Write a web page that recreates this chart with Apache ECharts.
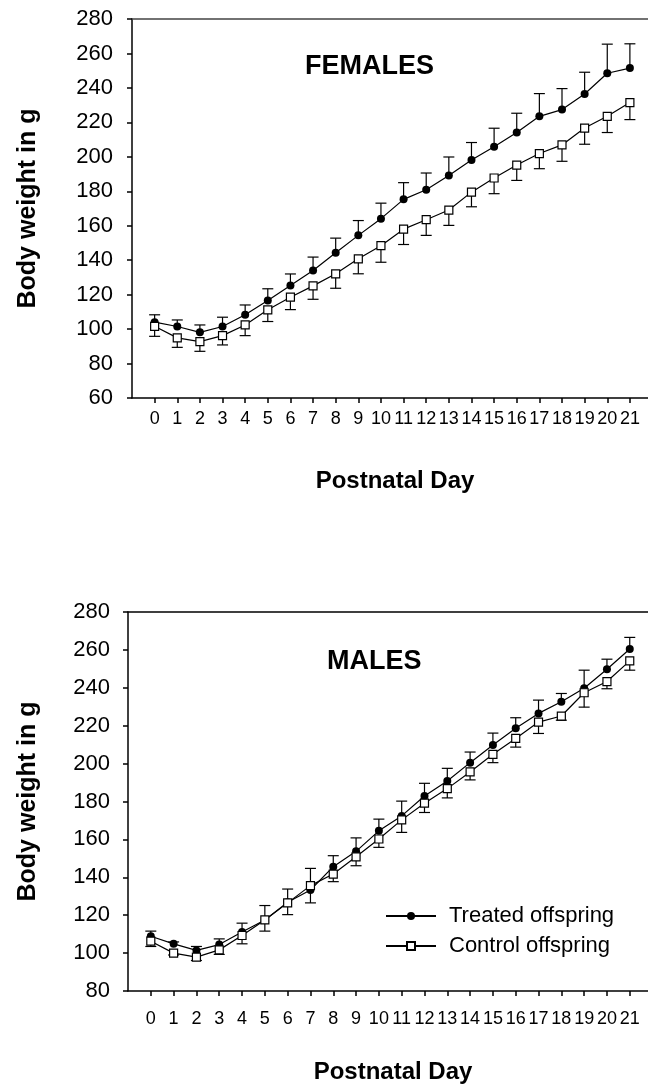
<!DOCTYPE html>
<html>
<head>
<meta charset="utf-8">
<script src="https://cdn.jsdelivr.net/npm/echarts@6/dist/echarts.min.js"></script>
<style>
  html, body { margin: 0; padding: 0; background: #fff; }
  #chart { width: 648px; height: 1085px; }
</style>
</head>
<body>
<div id="chart"></div>
<script>
// postnatal days shown on both x axes
var days = [0, 1, 2, 3, 4, 5, 6, 7, 8, 9, 10, 11, 12, 13, 14, 15, 16, 17, 18, 19, 20, 21];

// FEMALES, body weight in g (treated error bars drawn up, control down)
var femTreated = [104.0, 101.5, 98.1, 101.5, 108.3, 116.6, 125.3, 134.0, 144.3, 154.4, 164.1, 175.3, 180.9, 189.2, 198.1, 205.9, 214.1, 223.5, 227.4, 236.5, 248.5, 251.5];
var femTreatedErr = [4.3, 3.8, 4.3, 5.4, 5.7, 6.8, 6.7, 7.8, 8.5, 8.6, 9.0, 9.7, 9.7, 10.7, 10.2, 10.7, 11.2, 13.2, 12.2, 12.6, 16.9, 14.1];
var femControl = [101.6, 94.9, 92.7, 96.2, 102.4, 111.2, 118.5, 125.1, 132.1, 140.8, 148.4, 158.0, 163.5, 169.1, 179.5, 187.7, 195.2, 201.9, 206.9, 216.7, 223.5, 231.5];
var femControlErr = [5.8, 5.5, 5.6, 5.4, 6.2, 6.8, 7.2, 7.8, 8.4, 8.7, 9.6, 8.9, 9.1, 8.9, 8.5, 9.1, 8.9, 8.8, 9.5, 9.4, 9.4, 9.9];

// MALES
var maleTreated = [108.9, 104.9, 101.4, 104.5, 111.1, 117.5, 126.8, 133.3, 145.6, 153.7, 164.5, 172.4, 182.9, 190.8, 200.5, 209.8, 218.6, 226.5, 232.6, 239.8, 249.8, 260.5];
var maleTreatedErr = [2.7, 1.0, 2.1, 3.0, 4.7, 7.6, 7.0, 11.4, 5.8, 7.1, 6.2, 7.8, 6.7, 6.7, 5.6, 6.3, 5.6, 7.0, 4.4, 9.5, 5.3, 6.1];
var maleControl = [106.3, 100.0, 97.9, 101.7, 109.3, 117.5, 126.5, 135.6, 141.7, 150.8, 160.2, 170.3, 179.1, 186.8, 195.6, 204.9, 213.3, 221.9, 225.1, 237.4, 243.3, 254.2];
var maleControlErr = [2.8, 1.0, 1.8, 2.4, 4.4, 5.9, 6.2, 9.1, 4.0, 4.7, 4.4, 6.6, 4.9, 4.9, 4.2, 4.4, 4.6, 6.0, 2.2, 7.6, 3.8, 4.9];

var seriesNames = ['Treated offspring', 'Control offspring'];
var panelTitles = ['FEMALES', 'MALES'];
var xName = 'Postnatal Day';
var yName = 'Body weight in g';

var font = 'Liberation Sans, Arial, sans-serif';
var xMin = -1, xMax = 21.8;

function pairs(vals) {
    return days.map(function (d, i) { return [d, vals[i]]; });
}

function lineSeries(name, idx, vals, open) {
    return {
        name: name,
        type: 'line',
        xAxisIndex: idx,
        yAxisIndex: idx,
        data: pairs(vals),
        symbol: open ? 'rect' : 'circle',
        symbolSize: 8,
        z: 3,
        lineStyle: { color: '#000', width: 1.2 },
        itemStyle: open
            ? { color: '#fff', borderColor: '#000', borderWidth: 1.2 }
            : { color: '#000', borderColor: '#000', borderWidth: 0 },
        emphasis: { disabled: true }
    };
}

function errSeries(idx, vals, errs, dir) {
    return {
        type: 'custom',
        xAxisIndex: idx,
        yAxisIndex: idx,
        z: 2,
        silent: true,
        data: days.map(function (d, i) { return [d, vals[i], errs[i]]; }),
        encode: { x: 0, y: 1 },
        renderItem: function (params, api) {
            var x = api.value(0), m = api.value(1), e = api.value(2);
            var p0 = api.coord([x, m]);
            var p1 = api.coord([x, m + dir * e]);
            var half = 5.5;
            var st = { stroke: '#000', lineWidth: 1.2 };
            return {
                type: 'group',
                children: [
                    { type: 'line', shape: { x1: p0[0], y1: p0[1], x2: p1[0], y2: p1[1] }, style: st },
                    { type: 'line', shape: { x1: p1[0] - half, y1: p1[1], x2: p1[0] + half, y2: p1[1] }, style: st }
                ]
            };
        }
    };
}

function xAxis(idx, labelMargin, nameGap) {
    return {
        type: 'value',
        gridIndex: idx,
        position: 'bottom',
        min: xMin,
        max: xMax,
        interval: 1,
        name: xName,
        nameLocation: 'middle',
        nameGap: nameGap,
        nameTextStyle: { fontFamily: font, fontSize: 24, fontWeight: 'bold', color: '#000', padding: [0, 0, 0, 10] },
        axisLine: { show: true, onZero: false, lineStyle: { color: '#000', width: 1.5 } },
        axisTick: { show: true, length: 5, customValues: days, lineStyle: { color: '#000', width: 1.5 } },
        axisLabel: {
            fontFamily: font, fontSize: 18, color: '#000', margin: labelMargin,
            customValues: days,
            formatter: function (v) { return (v < 0 || v > 21) ? '' : String(v); }
        },
        splitLine: { show: false }
    };
}

// plain frame line along the top of each panel
function topLine(idx, color) {
    return {
        type: 'value',
        gridIndex: idx,
        position: 'top',
        min: xMin,
        max: xMax,
        axisLine: { show: true, onZero: false, lineStyle: { color: color, width: 1.5 } },
        axisTick: { show: false },
        axisLabel: { show: false },
        splitLine: { show: false }
    };
}

function yAxis(idx, min, labelMargin, nameGap) {
    return {
        type: 'value',
        gridIndex: idx,
        min: min,
        max: 280,
        interval: 20,
        name: yName,
        nameLocation: 'middle',
        nameGap: nameGap,
        nameTextStyle: { fontFamily: font, fontSize: 25, fontWeight: 'bold', color: '#000' },
        axisLine: { show: true, onZero: false, lineStyle: { color: '#000', width: 1.5 } },
        axisTick: { show: true, length: 5, lineStyle: { color: '#000', width: 1.5 } },
        axisLabel: { fontFamily: font, fontSize: 22, color: '#000', margin: labelMargin },
        splitLine: { show: false }
    };
}

var chart = echarts.init(document.getElementById('chart'), null, { renderer: 'canvas' });

var option = {
    backgroundColor: '#fff',
    animation: false,
    title: [
        { text: panelTitles[0], left: 305, top: 53, padding: 0,
          textStyle: { fontFamily: font, fontSize: 27, fontWeight: 'bold', color: '#000' } },
        { text: panelTitles[1], left: 327, top: 648, padding: 0,
          textStyle: { fontFamily: font, fontSize: 27, fontWeight: 'bold', color: '#000' } }
    ],
    legend: {
        data: seriesNames,
        orient: 'vertical',
        left: 385,
        top: 905,
        padding: 0,
        itemWidth: 50,
        itemHeight: 10,
        itemGap: 8,
        selectedMode: false,
        textStyle: { fontFamily: font, fontSize: 22, color: '#000', padding: [0, 0, 0, 8] }
    },
    grid: [
        { left: 132, top: 19, width: 516, height: 379 },
        { left: 128, top: 612, width: 520, height: 380 }
    ],
    xAxis: [xAxis(0, 12, 71), xAxis(1, 19, 69), topLine(0, '#444'), topLine(1, '#000')],
    yAxis: [yAxis(0, 60, 19, 91), yAxis(1, 80, 18, 87)],
    series: [
        errSeries(0, femTreated, femTreatedErr, 1),
        errSeries(0, femControl, femControlErr, -1),
        lineSeries(seriesNames[0], 0, femTreated, false),
        lineSeries(seriesNames[1], 0, femControl, true),
        errSeries(1, maleTreated, maleTreatedErr, 1),
        errSeries(1, maleControl, maleControlErr, -1),
        lineSeries(seriesNames[0], 1, maleTreated, false),
        lineSeries(seriesNames[1], 1, maleControl, true)
    ]
};

chart.setOption(option);
window.onresize = function () {
    chart.resize();
};
</script>
</body>
</html>
